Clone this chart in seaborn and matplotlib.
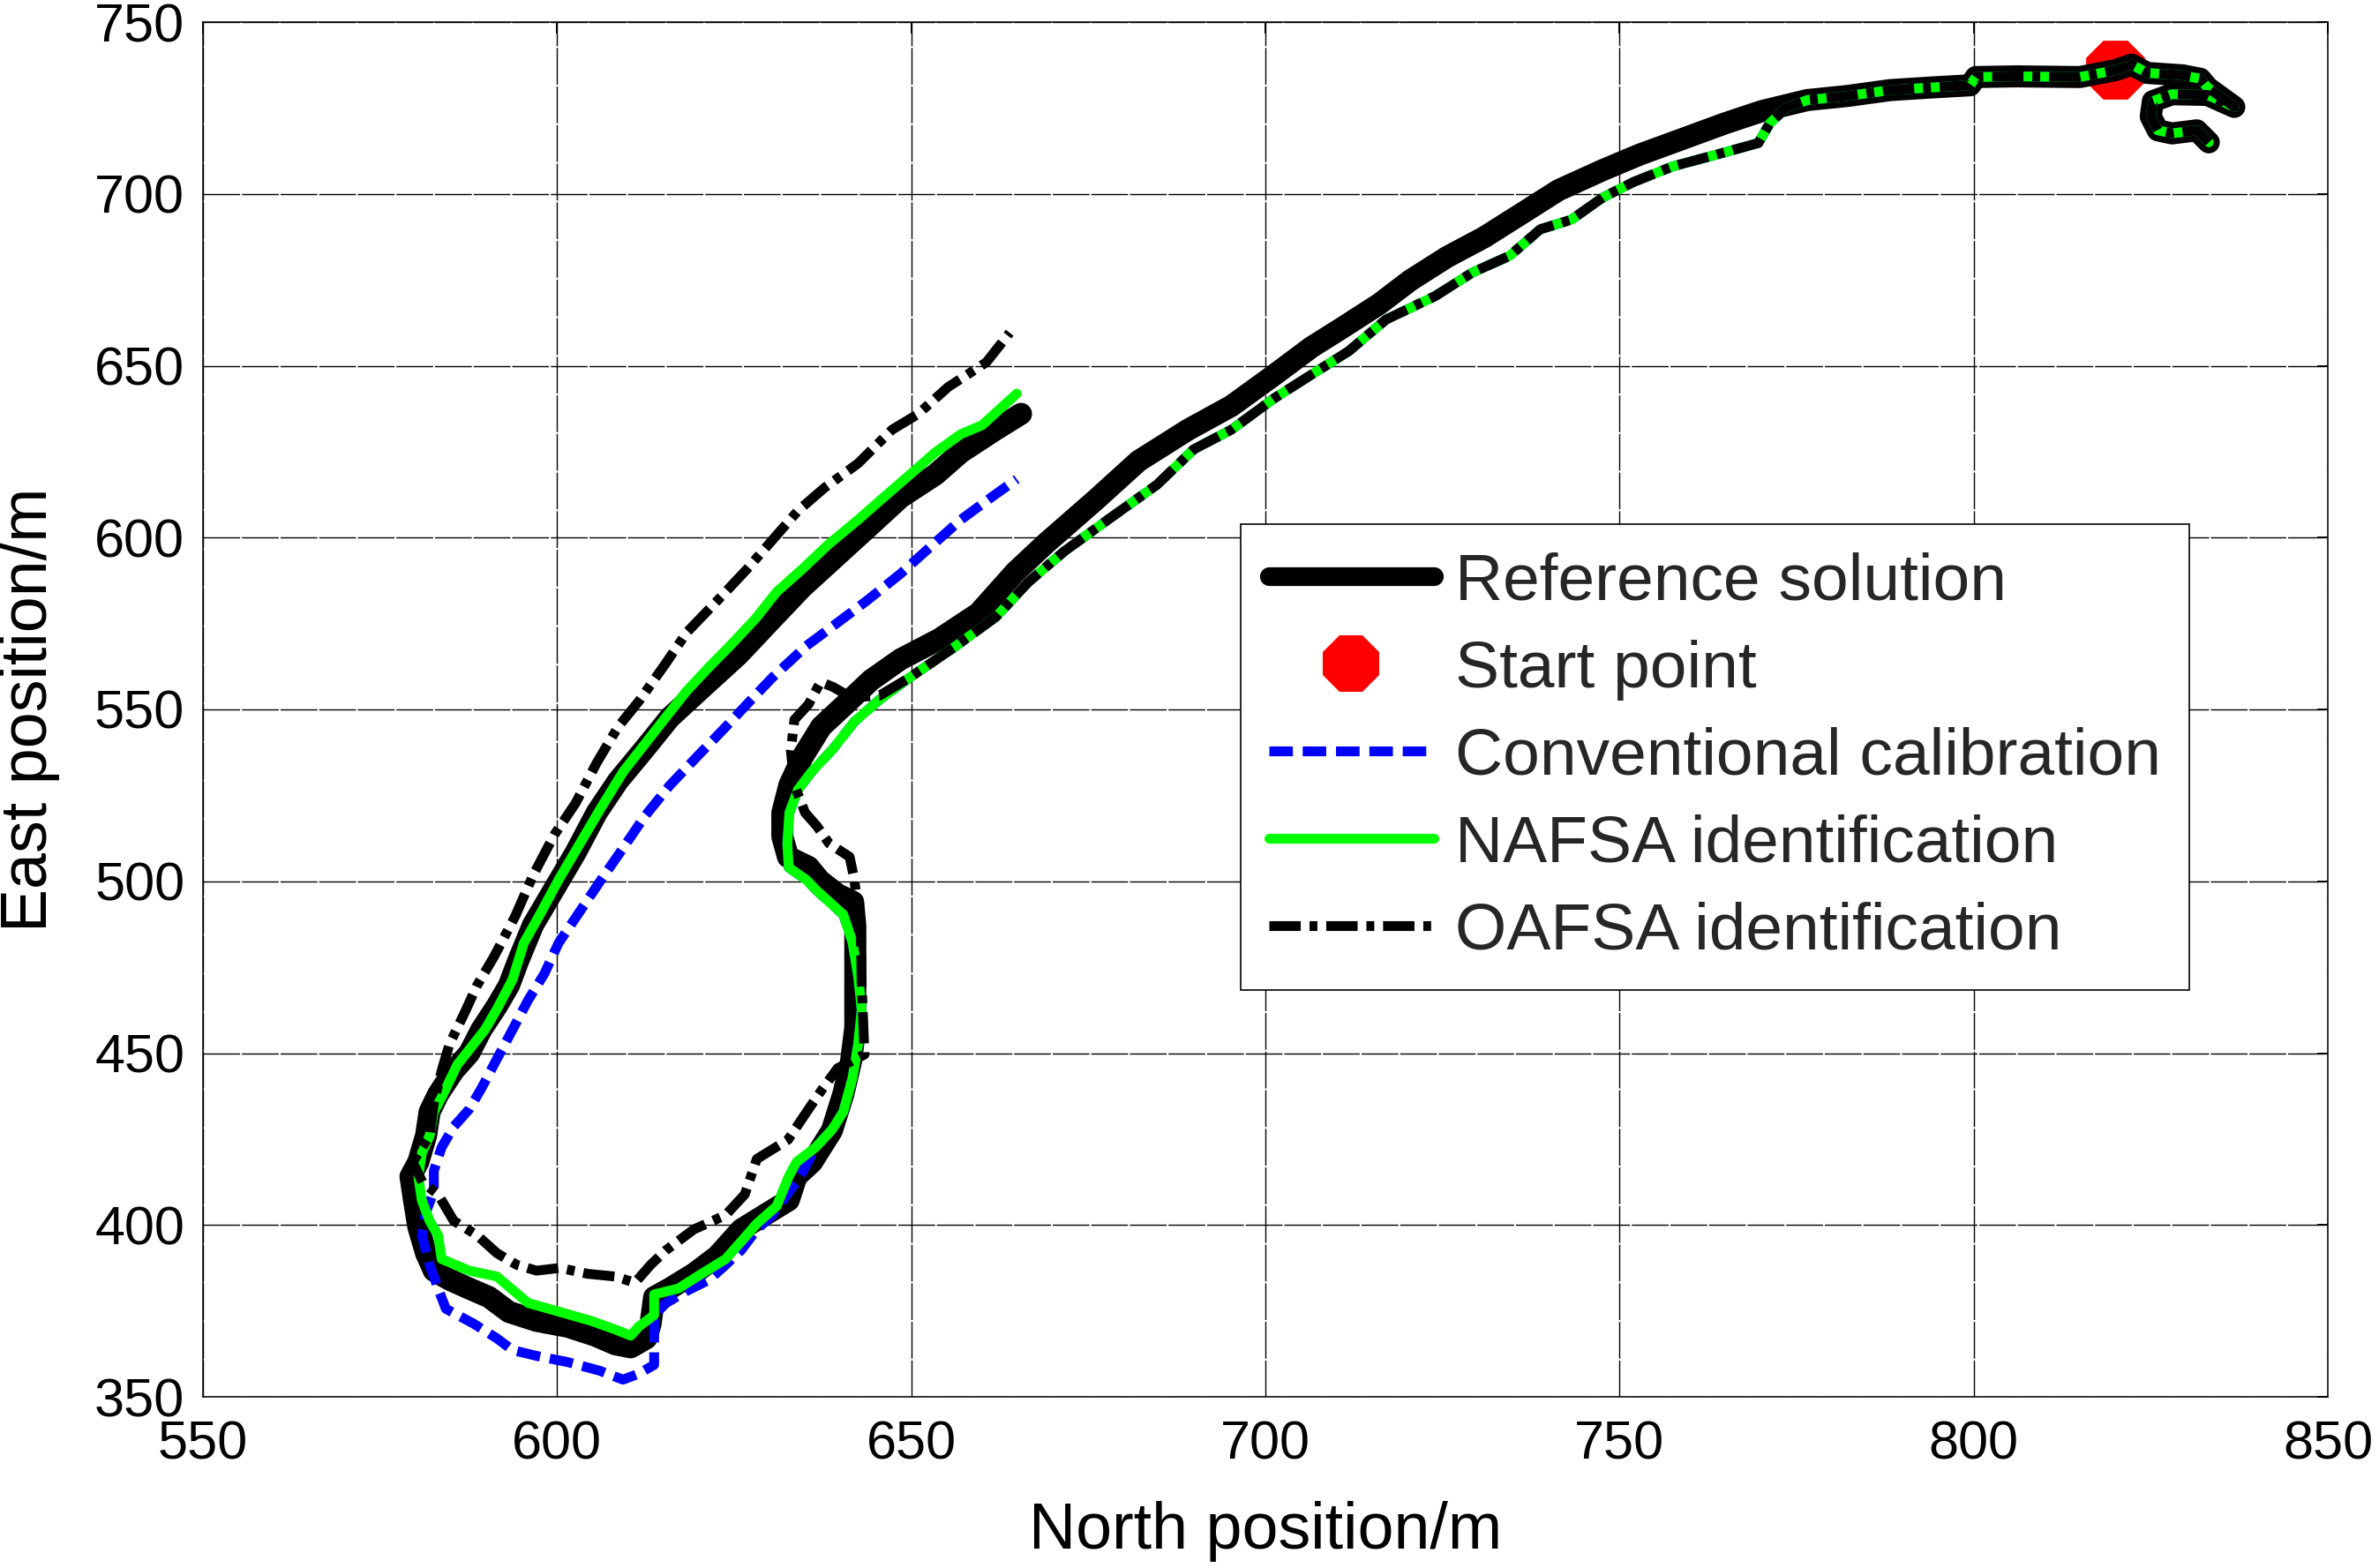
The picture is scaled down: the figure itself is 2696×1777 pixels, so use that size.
import matplotlib
matplotlib.use("Agg")
import matplotlib.pyplot as plt
import seaborn as sns
import pandas as pd
from matplotlib.lines import Line2D

# ---------------- data ----------------
x_ticks = [550, 600, 650, 700, 750, 800, 850]
y_ticks = [350, 400, 450, 500, 550, 600, 650, 700, 750]

start_x = [820.0]
start_y = [736.1]

# common part: manoeuvre near the start point and the top straight (all solutions coincide)
common_x = [833.2, 831.5, 828.0, 826.0, 825.0, 825.3, 828.0, 833.0, 836.8, 833.0, 832.0,
            829.5, 824.5, 822.3, 820.0, 815.0, 806.0, 800.3, 799.5, 794.3, 788.2, 782.2, 776.5]
common_y = [715.0, 718.5, 717.6, 718.5, 722.5, 727.0, 729.0, 728.8, 725.3, 731.0, 733.5,
            734.5, 735.2, 737.6, 736.0, 734.0, 734.2, 734.0, 731.6, 731.0, 730.2, 728.5, 727.3]

# reference solution after the common part
ref_x = [770.1, 765.0, 758.9, 752.8, 747.6, 741.4, 736.2, 730.9, 725.7, 720.5, 716.1, 710.9,
         706.5, 701.3, 695.2, 689.1, 682.1, 676.0, 669.0, 664.7, 659.5, 654.0, 648.5, 644.3,
         640.7, 637.3, 634.6, 632.8, 631.8, 631.8, 632.6, 635.5, 637.1, 639.6, 641.8, 642.1,
         642.1, 642.1, 642.1, 641.5, 640.4, 638.8, 636.0, 633.8, 632.7, 629.3, 626.0, 622.6,
         619.3, 615.9, 613.7, 613.2, 612.6, 610.4, 608.2, 605.4, 601.5, 597.1, 593.2, 590.4,
         587.6, 584.8, 582.6, 581.5, 580.4, 579.8, 579.3, 580.4, 581.5, 582.0, 583.2, 585.4,
         587.6, 589.3, 591.5, 593.2, 594.5, 596.6, 599.6, 602.6, 605.6, 608.6, 612.3, 615.9,
         620.7, 625.6, 630.4, 634.6, 639.5, 643.7, 648.5, 653.4, 657.0, 661.9, 665.5]
ref_y = [724.1, 720.6, 716.0, 711.4, 706.9, 701.1, 694.3, 687.4, 681.7, 674.9, 668.0, 661.1,
         655.4, 647.4, 638.3, 631.4, 622.3, 610.9, 598.3, 590.0, 578.0, 570.5, 564.6, 558.5,
         551.5, 545.0, 536.0, 528.0, 520.0, 513.0, 507.1, 504.2, 500.2, 496.2, 494.0, 487.0,
         477.0, 467.5, 457.5, 447.6, 438.0, 427.5, 418.3, 414.1, 407.2, 402.9, 398.7, 390.9,
         385.8, 381.5, 379.0, 371.3, 367.0, 364.4, 365.3, 367.8, 370.4, 372.1, 374.7, 379.0,
         381.5, 384.1, 386.7, 391.8, 399.5, 407.2, 414.1, 418.3, 426.0, 432.9, 438.0, 444.9,
         450.0, 456.8, 463.7, 469.7, 476.8, 487.3, 497.8, 508.3, 520.0, 529.2, 538.4, 547.6,
         556.7, 565.9, 576.4, 585.5, 594.7, 602.6, 611.7, 618.3, 624.8, 631.4, 636.0]

# lower diagonal track shared by the three identified solutions
diag_x = [773.5, 771.2, 769.6, 764.0, 757.5, 751.9, 747.6, 743.2, 738.8, 734.5, 729.2, 724.0,
          717.0, 711.8, 706.5, 701.3, 695.2, 689.9, 684.7, 677.7, 671.6, 666.5, 662.0, 656.0,
          649.8]
diag_y = [725.0, 720.5, 714.8, 711.6, 708.0, 703.4, 698.9, 692.5, 689.7, 682.0, 677.1, 670.3,
          663.4, 654.3, 647.4, 640.6, 631.4, 625.7, 615.4, 605.1, 596.0, 587.0, 577.0, 568.0,
          559.3]

# hook part shared by NAFSA and conventional calibration
hook_x = [645.5, 642.0, 638.9, 635.9, 634.0, 632.8, 632.5, 632.7, 635.2, 636.7, 640.4, 641.7,
          642.5, 643.0, 642.5, 641.7, 640.4, 638.8, 636.5]
hook_y = [552.8, 546.5, 538.4, 531.8, 526.6, 520.0, 511.0, 504.0, 500.4, 497.2, 490.3, 482.3,
          472.4, 462.5, 452.6, 442.7, 432.9, 427.7, 422.6]

# NAFSA identification, remainder
nafsa_x = [633.8, 632.7, 631.0, 628.2, 626.0, 623.8, 620.4, 617.1, 613.7, 613.7, 611.5, 610.4,
           608.2, 604.8, 600.4, 595.9, 591.5, 587.6, 583.7, 583.2, 582.0, 580.9, 580.4, 580.9,
           582.0, 582.6, 583.7, 585.9, 588.2, 589.8, 591.5, 593.7, 595.3, 597.8, 600.2, 603.2,
           606.2, 609.3, 612.3, 615.3, 618.3, 621.3, 624.4, 628.0, 631.0, 634.6, 638.3, 642.5,
           646.1, 649.8, 653.4, 657.0, 660.0, 664.9]
nafsa_y = [418.3, 414.1, 405.5, 400.4, 395.2, 390.1, 385.8, 381.5, 379.8, 373.8, 370.4, 367.8,
           369.6, 372.1, 374.7, 377.3, 385.0, 386.7, 390.1, 397.0, 401.2, 407.2, 414.1, 420.9,
           426.0, 432.9, 437.2, 446.6, 452.6, 456.8, 462.8, 471.4, 482.0, 491.2, 500.4, 510.9,
           521.4, 531.8, 539.7, 547.6, 555.4, 562.0, 568.5, 576.4, 584.2, 590.8, 598.0, 605.2,
           611.7, 618.3, 624.8, 630.1, 632.7, 641.9]

# Conventional calibration, remainder
conv_x = [634.3, 630.4, 628.2, 626.0, 623.8, 621.5, 618.2, 615.4, 613.7, 613.7, 613.7, 611.5,
          609.3, 606.0, 601.5, 597.1, 593.7, 591.5, 588.2, 584.3, 583.2, 582.0, 580.9, 581.5,
          582.6, 582.6, 583.7, 585.4, 587.6, 589.3, 591.5, 593.7, 595.9, 598.2, 600.2, 603.2,
          606.2, 609.3, 612.3, 615.9, 620.1, 623.8, 626.8, 630.4, 635.2, 639.5, 643.7, 648.5,
          653.4, 657.0, 661.3, 664.9]
conv_y = [414.1, 402.9, 398.7, 392.7, 388.4, 384.1, 380.7, 377.3, 373.8, 362.7, 359.3, 356.7,
          355.0, 357.6, 360.1, 361.9, 363.6, 367.0, 371.3, 375.6, 381.5, 388.4, 397.0, 403.8,
          409.8, 415.8, 422.6, 428.6, 433.7, 439.7, 448.3, 456.8, 465.4, 473.1, 482.0, 491.2,
          500.4, 509.6, 518.7, 527.9, 537.0, 544.9, 551.5, 559.3, 568.5, 575.1, 581.6, 589.5,
          598.6, 605.2, 611.7, 617.0]

# OAFSA identification, remainder after the diagonal
oafsa_x = [645.5, 641.5, 639.0, 637.2, 635.5, 633.5, 633.0, 633.5, 635.0, 636.7, 638.4, 641.3,
           641.9, 642.5, 642.9, 643.0, 643.2, 643.4, 639.6, 637.5, 635.5, 632.6, 628.2, 626.5,
           623.8, 619.3, 615.4, 613.2, 611.0, 608.2, 604.3, 600.4, 597.1, 594.3, 591.5, 588.7,
           585.4, 583.2, 581.0, 579.6, 582.0, 582.6, 583.7, 584.8, 587.0, 588.7, 591.1, 594.1,
           596.6, 599.6, 602.6, 605.6, 608.6, 611.7, 615.3, 618.3, 622.6, 626.8, 630.4, 634.0,
           637.7, 642.5, 647.3, 651.0, 655.2, 660.6, 663.9]
oafsa_y = [554.0, 553.5, 556.5, 558.0, 551.5, 547.0, 538.0, 528.0, 520.0, 516.0, 511.0, 507.1,
           501.2, 492.3, 482.3, 470.5, 460.0, 449.6, 445.6, 439.7, 433.7, 424.8, 419.2, 408.9,
           402.9, 398.7, 392.7, 388.4, 383.2, 385.0, 385.8, 387.5, 386.7, 388.4, 391.8, 397.0,
           401.2, 408.9, 412.4, 418.3, 426.0, 435.5, 444.9, 452.6, 462.0, 469.7, 478.1, 489.9,
           501.7, 513.5, 522.7, 534.5, 544.9, 552.8, 563.3, 572.4, 581.6, 590.8, 599.3, 607.8,
           614.4, 621.6, 631.4, 636.0, 643.8, 651.0, 659.6]

labels = ["Reference solution", "Start point", "Conventional calibration",
          "NAFSA identification", "OAFSA identification"]

# ---------------- figure ----------------
sns.set_theme(style="white")
plt.rcParams['font.family'] = ['Liberation Sans', 'DejaVu Sans']

W, H = 2696, 1777
fig = plt.figure(figsize=(W / 100, H / 100), dpi=100)
ax = fig.add_axes([230 / W, 1 - 1583 / H, 2408 / W, 1558 / H])

LW_REF = 18
LW = 8.0
DASH = (0, (2.4, 1.0))
DASHDOT = (0, (3.2, 0.9, 0.8, 0.9))


def draw(xs, ys, **kw):
    df = pd.DataFrame({"x": xs, "y": ys})
    sns.lineplot(data=df, x="x", y="y", sort=False, estimator=None, ax=ax,
                 legend=False, **kw)


# start point (drawn underneath the tracks)
sns.scatterplot(x=start_x, y=start_y, marker="8", s=52 ** 2, color="#ff0000",
                edgecolor="#ff0000", linewidth=0, ax=ax, zorder=2, legend=False)

draw(common_x + ref_x, common_y + ref_y, color="black", linewidth=LW_REF,
     solid_capstyle="round", solid_joinstyle="round", zorder=3)
draw(common_x + diag_x + hook_x + conv_x, common_y + diag_y + hook_y + conv_y,
     color="#0000ff", linewidth=LW, linestyle=DASH, dash_capstyle="butt", zorder=4)
draw(common_x + diag_x + hook_x + nafsa_x, common_y + diag_y + hook_y + nafsa_y,
     color="#00ff00", linewidth=LW, solid_capstyle="round", solid_joinstyle="round", zorder=5)
draw(common_x + diag_x + oafsa_x, common_y + diag_y + oafsa_y,
     color="black", linewidth=LW, linestyle=DASHDOT, dash_capstyle="butt", zorder=6)

ax.set_xlim(550, 850)
ax.set_ylim(350, 750)
ax.set_xticks(x_ticks)
ax.set_yticks(y_ticks)
ax.set_xticklabels([str(v) for v in x_ticks])
ax.set_yticklabels([str(v) for v in y_ticks])

ax.grid(True, color="black", linewidth=1.0, linestyle=(0, (30, 1.5)))
ax.set_axisbelow(True)
for sp in ax.spines.values():
    sp.set_visible(True)
    sp.set_color("black")
    sp.set_linewidth(1.1)

ax.tick_params(axis="both", which="major", direction="in", length=9, width=1.4,
               color="black", top=True, right=True, labelsize=44, labelcolor="black")
ax.tick_params(axis="x", pad=19)
ax.tick_params(axis="y", pad=15)

ax.set_xlabel("North position/m", fontsize=53, color="black")
ax.set_ylabel("East position/m", fontsize=53, color="black")
ax.xaxis.set_label_coords(0.5, (1583 - 1736) / 1558)
ax.xaxis.label.set_verticalalignment("center")
ax.yaxis.set_label_coords((34 - 230) / 2408, 0.5)
ax.yaxis.label.set_verticalalignment("center")

handles = [
    Line2D([], [], color="black", lw=LW_REF * 0.85),
    Line2D([], [], color="#ff0000", marker="8", markersize=50, linestyle="none",
           markeredgewidth=0),
    Line2D([], [], color="#0000ff", lw=LW, linestyle=DASH, dash_capstyle="butt"),
    Line2D([], [], color="#00ff00", lw=LW),
    Line2D([], [], color="black", lw=LW, linestyle=DASHDOT, dash_capstyle="butt"),
]
leg = ax.legend(handles, labels, loc="upper left",
                bbox_to_anchor=(1406 / W, 1 - 594 / H), bbox_transform=fig.transFigure,
                fontsize=54, frameon=True, fancybox=False, shadow=False, framealpha=1,
                edgecolor="black", borderpad=0.42, handlelength=2.5, handletextpad=0.32,
                labelspacing=0.40, borderaxespad=0)
leg.get_frame().set_linewidth(1.2)
leg.set_zorder(10)

fig.savefig("out.png", dpi=100, facecolor="white")
